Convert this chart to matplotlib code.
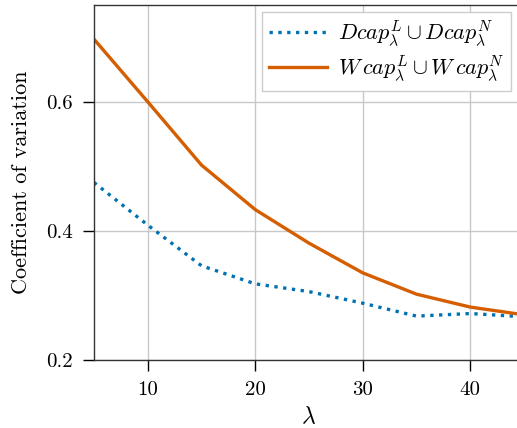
import matplotlib
matplotlib.use("Agg")
import matplotlib.pyplot as plt

# Данные графика
lambdas = [5, 10, 15, 20, 25, 30, 35, 40, 45]
dcap = [0.475, 0.409, 0.346, 0.318, 0.306, 0.288, 0.268, 0.272, 0.267]
wcap = [0.697, 0.600, 0.502, 0.433, 0.381, 0.335, 0.302, 0.282, 0.270]
xticks = [10, 20, 30, 40]
yticks = [0.2, 0.4, 0.6]

plt.rcParams['font.family'] = 'serif'
plt.rcParams['font.serif'] = ['cmr10', 'DejaVu Serif']
plt.rcParams['mathtext.fontset'] = 'cm'
plt.rcParams['axes.formatter.use_mathtext'] = True

fig = plt.figure(figsize=(5.17, 4.28), dpi=100)
ax = fig.add_axes([94 / 517, 68 / 428, 430 / 517, 355 / 428])

ax.plot(lambdas, dcap, color='#0072b2', linestyle=':', linewidth=2.4,
        label=r'$Dcap_\lambda^L \cup Dcap_\lambda^N$')
ax.plot(lambdas, wcap, color='#d55e00', linestyle='-', linewidth=2.4,
        label=r'$W\,cap_\lambda^L \cup W\,cap_\lambda^N$')

ax.set_xlim(5, 45)
ax.set_ylim(0.2, 0.75)
ax.set_xticks(xticks)
ax.set_yticks(yticks)
ax.set_xticklabels([str(t) for t in xticks])
ax.set_yticklabels([f"{t:.1f}" for t in yticks])
ax.tick_params(direction='out', length=8, width=1, labelsize=15, pad=7)

ax.grid(True, color='#c8c8c8', linewidth=1)
ax.set_axisbelow(True)
for s in ['left', 'top', 'bottom']:
    ax.spines[s].set_color('#333333')
    ax.spines[s].set_linewidth(1)
ax.spines['right'].set_visible(False)

ax.set_xlabel(r'$\lambda$', fontsize=17, labelpad=5)
ax.set_ylabel('Coefficient of variation', fontsize=16, labelpad=11)

leg = ax.legend(loc='upper right', bbox_to_anchor=(511 / 517, 416 / 428),
                bbox_transform=fig.transFigure, borderaxespad=0,
                fontsize=16, handlelength=2.6, handletextpad=0.5,
                borderpad=0.3, labelspacing=0.2, fancybox=False,
                framealpha=1, edgecolor='#cccccc')

fig.savefig('out.png', dpi=100)
